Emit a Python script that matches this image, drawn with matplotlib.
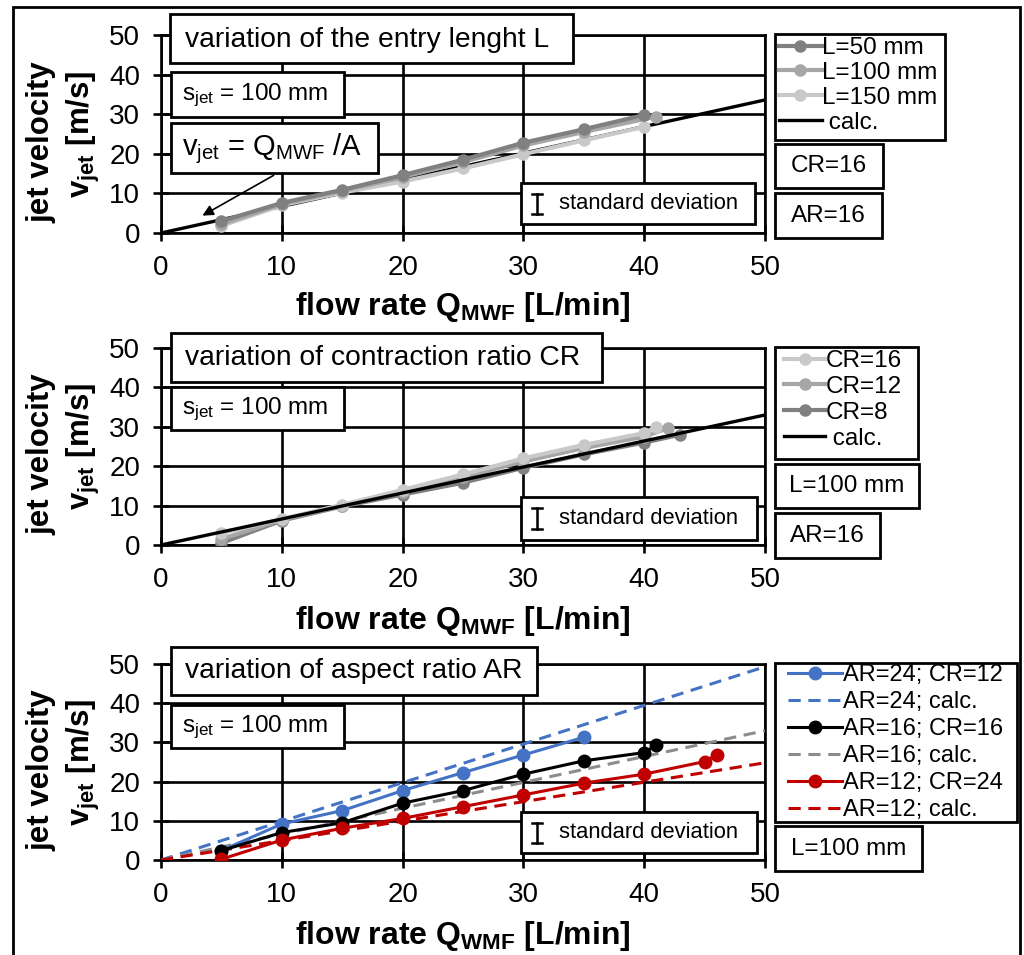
import matplotlib
matplotlib.use('Agg')
import matplotlib.pyplot as plt
from matplotlib.patches import Rectangle, FancyArrowPatch
from matplotlib.lines import Line2D

plt.rcParams['font.family'] = ['Liberation Sans', 'DejaVu Sans']
plt.rcParams['mathtext.fontset'] = 'custom'
plt.rcParams['mathtext.rm'] = 'Liberation Sans'
plt.rcParams['mathtext.it'] = 'Liberation Sans:italic'
plt.rcParams['mathtext.bf'] = 'Liberation Sans:bold'

# ---------------- data ----------------
ticks = [0, 10, 20, 30, 40, 50]

# panel 1: variation of entry length L
q_L50 = [5, 10, 15, 20, 25, 30, 35, 40]
v_L50 = [3.0, 7.6, 10.9, 14.6, 18.5, 22.8, 26.2, 29.8]
q_L100 = [5, 10, 15, 20, 25, 30, 35, 41]
v_L100 = [2.2, 7.3, 10.6, 14.1, 17.9, 22.1, 25.5, 29.4]
q_L150 = [5, 10, 15, 20, 25, 30, 35, 40]
v_L150 = [1.8, 7.0, 10.2, 13.0, 16.3, 19.9, 23.4, 26.8]
calc_q = [0, 50]
calc_v1 = [0, 33.6]

# panel 2: variation of contraction ratio CR
q_CR16 = [5, 10, 15, 20, 25, 30, 35, 40, 41]
v_CR16 = [3.0, 6.6, 10.2, 14.0, 17.9, 22.0, 25.4, 28.4, 30.0]
q_CR12 = [5, 10, 15, 20, 25, 30, 35, 40, 42]
v_CR12 = [1.5, 6.4, 10.0, 13.5, 17.2, 21.2, 24.6, 27.5, 29.7]
q_CR8 = [5, 10, 15, 20, 25, 30, 35, 40, 43]
v_CR8 = [0.5, 6.2, 9.8, 12.8, 15.8, 19.6, 23.0, 26.0, 28.0]
calc_v2 = [0, 33.0]

# panel 3: variation of aspect ratio AR
q_AR24 = [5, 10, 15, 20, 25, 30, 35]
v_AR24 = [2.4, 9.2, 12.6, 17.7, 22.3, 26.8, 31.3]
q_AR16 = [5, 10, 15, 20, 25, 30, 35, 40, 41]
v_AR16 = [2.4, 7.0, 9.5, 14.5, 17.7, 21.9, 25.3, 27.4, 29.3]
q_AR12 = [5, 10, 15, 20, 25, 30, 35, 40, 45, 46]
v_AR12 = [0.2, 5.1, 8.1, 10.6, 13.6, 16.6, 19.6, 21.9, 25.1, 26.8]
calc_v_AR24 = [0, 49.3]
calc_v_AR16 = [0, 33.0]
calc_v_AR12 = [0, 24.8]

# ---------------- layout helpers (pixel coords, origin top-left) ----------------
W, H = 1024, 955
fig = plt.figure(figsize=(W / 100, H / 100), dpi=100)

BLACK = 'black'
G_DARK, G_MID, G_LIGHT = '#808080', '#a6a6a6', '#c9c9c9'
BLUE, RED, GRAY_D = '#4472c4', '#c00000', '#8c8c8c'
LW = 1.9


def add_box(x0, y0, x1, y1, lw=2.0, z=4):
    fig.add_artist(Rectangle((x0 / W, 1 - y1 / H), (x1 - x0) / W, (y1 - y0) / H,
                             transform=fig.transFigure, facecolor='white',
                             edgecolor='black', linewidth=lw, zorder=z))


def add_text(x, y, s, size, ha='left', **kw):
    fig.text(x / W, 1 - y / H, s, fontsize=size, ha=ha, va='center', zorder=6, **kw)


def std_box(x0, y0, x1, y1):
    add_box(x0, y0, x1, y1)
    cx, cy = x0 + 16, (y0 + y1) / 2
    for xs, ys in [([cx, cx], [cy - 10, cy + 10]), ([cx - 5, cx + 5], [cy - 10, cy - 10]),
                   ([cx - 5, cx + 5], [cy + 10, cy + 10])]:
        fig.add_artist(Line2D([x / W for x in xs], [1 - y / H for y in ys],
                              transform=fig.transFigure, color='black', lw=1.8, zorder=6))
    add_text(x0 + 38, cy, 'standard deviation', 15.8)


X0, X1 = 161, 765
panels_px = [(35, 233), (348, 545), (664, 860)]
axes = []
for top, bot in panels_px:
    ax = fig.add_axes([X0 / W, 1 - bot / H, (X1 - X0) / W, (bot - top) / H])
    ax.set_xlim(0, 50)
    ax.set_ylim(0, 50)
    ax.set_xticks(ticks)
    ax.set_yticks(ticks)
    ax.grid(True, color='black', lw=LW)
    ax.set_axisbelow(True)
    for sp in ax.spines.values():
        sp.set_linewidth(LW)
        sp.set_color('black')
    ax.tick_params(direction='inout', length=12, width=LW, labelsize=20)
    ax.tick_params(axis='y', pad=9)
    ax.tick_params(axis='x', pad=10)
    axes.append(ax)

ax1, ax2, ax3 = axes

mk = dict(marker='o', ms=8, lw=3)
# panel 1
ax1.plot(calc_q, calc_v1, color=BLACK, lw=2.4, zorder=3)
ax1.plot(q_L150, v_L150, color=G_LIGHT, **mk, zorder=4)
ax1.plot(q_L100, v_L100, color=G_MID, **mk, zorder=5)
ax1.plot(q_L50, v_L50, color=G_DARK, **mk, zorder=5)

# panel 2
ax2.plot(calc_q, calc_v2, color=BLACK, lw=2.4, zorder=6)
ax2.plot(q_CR8, v_CR8, color=G_DARK, **mk, zorder=4)
ax2.plot(q_CR12, v_CR12, color=G_MID, **mk, zorder=5)
ax2.plot(q_CR16, v_CR16, color=G_LIGHT, **mk, zorder=5)

# panel 3
dash = (0, (4, 2.5))
mk3 = dict(marker='o', ms=9, lw=2.2)
ax3.plot(calc_q, calc_v_AR24, color=BLUE, lw=2.2, ls=dash, zorder=3)
ax3.plot(calc_q, calc_v_AR16, color=GRAY_D, lw=2.2, ls=dash, zorder=3)
ax3.plot(calc_q, calc_v_AR12, color=RED, lw=2.2, ls=dash, zorder=3)
ax3.plot(q_AR24, v_AR24, color=BLUE, **mk3, zorder=4)
ax3.plot(q_AR16, v_AR16, color=BLACK, **mk3, zorder=4)
ax3.plot(q_AR12, v_AR12, color=RED, **mk3, zorder=4)

# axis titles
xl_centers = [307, 621, 936]
xl_texts = [r'flow rate $\mathbf{Q_{MWF}}$ [L/min]', r'flow rate $\mathbf{Q_{MWF}}$ [L/min]',
            r'flow rate $\mathbf{Q_{WMF}}$ [L/min]']
for yc, s in zip(xl_centers, xl_texts):
    add_text((X0 + X1) / 2, yc, s, 23, ha='center', fontweight='bold')
for top, bot in panels_px:
    yc = (top + bot) / 2
    fig.text(41 / W, 1 - (yc + 8) / H, 'jet velocity', fontsize=22.5, fontweight='bold',
             rotation=90, ha='center', va='center')
    fig.text(83 / W, 1 - yc / H, r'$\mathbf{v_{jet}}$ [m/s]', fontsize=22.5, fontweight='bold',
             rotation=90, ha='center', va='center')

# ---------------- panel 1 annotations ----------------
add_box(170, 14, 573, 63)
add_text(185, 40, 'variation of the entry lenght L', 20.3)
add_box(171, 72, 344, 117)
add_text(182, 95, r'$\mathregular{s_{jet}}$ = 100 mm', 17.5)
add_box(171, 123, 378, 173)
add_text(182, 149, r'$\mathregular{v_{jet}}$ = $\mathregular{Q_{MWF}}$ /A', 21)
fig.add_artist(FancyArrowPatch((276 / W, 1 - 174 / H), (200 / W, 1 - 217 / H),
               transform=fig.transFigure, arrowstyle='-|>', mutation_scale=16,
               color='black', lw=1.2, zorder=6))
std_box(521, 183, 755, 224)

add_box(775, 34, 945, 140)
h1 = [Line2D([], [], color=G_DARK, marker='o', ms=8, lw=3),
      Line2D([], [], color=G_MID, marker='o', ms=8, lw=3),
      Line2D([], [], color=G_LIGHT, marker='o', ms=8, lw=3),
      Line2D([], [], color=BLACK, lw=2.4)]
leg_kw = dict(loc='upper left', bbox_transform=fig.transFigure, frameon=False,
              borderpad=0, borderaxespad=0, handletextpad=0.02)
fig.legend(h1, ['L=50 mm', 'L=100 mm', 'L=150 mm', ' calc.'],
           bbox_to_anchor=(779 / W, 1 - 37 / H), fontsize=17.5, handlelength=1.75,
           labelspacing=0.12, **leg_kw).set_zorder(7)
add_box(775, 144, 883, 188)
add_text(829, 166, 'CR=16', 17.5, ha='center')
add_box(775, 193, 882, 238)
add_text(828.5, 215.5, 'AR=16', 17.5, ha='center')

# ---------------- panel 2 annotations ----------------
add_box(171, 333, 602, 382)
add_text(185, 358, 'variation of contraction ratio CR', 20.3)
add_box(171, 387, 344, 430)
add_text(182, 409, r'$\mathregular{s_{jet}}$ = 100 mm', 17.5)
std_box(521, 497, 757, 540)

add_box(775, 347, 918, 459)
h2 = [Line2D([], [], color=G_LIGHT, marker='o', ms=8, lw=3),
      Line2D([], [], color=G_MID, marker='o', ms=8, lw=3),
      Line2D([], [], color=G_DARK, marker='o', ms=8, lw=3),
      Line2D([], [], color=BLACK, lw=2.4)]
fig.legend(h2, ['CR=16', 'CR=12', 'CR=8', ' calc.'],
           bbox_to_anchor=(784 / W, 1 - 350 / H), fontsize=17.5, handlelength=1.7,
           labelspacing=0.16, **leg_kw).set_zorder(7)
add_box(775, 464, 919, 508)
add_text(847, 486, 'L=100 mm', 17.5, ha='center')
add_box(775, 513, 880, 558)
add_text(827.5, 535.5, 'AR=16', 17.5, ha='center')

# ---------------- panel 3 annotations ----------------
add_box(171, 647, 537, 695)
add_text(185, 671, 'variation of aspect ratio AR', 20.3)
add_box(171, 705, 344, 748)
add_text(182, 727, r'$\mathregular{s_{jet}}$ = 100 mm', 17.5)
std_box(521, 812, 757, 853)

add_box(775, 663, 1017, 822)
h3 = [Line2D([], [], color=BLUE, marker='o', ms=9, lw=2.2),
      Line2D([], [], color=BLUE, lw=2.2, ls=dash),
      Line2D([], [], color=BLACK, marker='o', ms=9, lw=2.2),
      Line2D([], [], color=GRAY_D, lw=2.2, ls=dash),
      Line2D([], [], color=RED, marker='o', ms=9, lw=2.2),
      Line2D([], [], color=RED, lw=2.2, ls=dash)]
fig.legend(h3, ['AR=24; CR=12', 'AR=24; calc.', 'AR=16; CR=16', 'AR=16; calc.',
                'AR=12; CR=24', 'AR=12; calc.'],
           bbox_to_anchor=(788 / W, 1 - 664 / H), fontsize=17, handlelength=2.3,
           labelspacing=0.21, **leg_kw).set_zorder(7)
add_box(775, 826, 922, 871)
add_text(848.5, 848.5, 'L=100 mm', 17.5, ha='center')

# outer frame
fig.add_artist(Rectangle((13 / W, -10 / H), (1020 - 13) / W, (955 - 7 + 10) / H,
                         transform=fig.transFigure, facecolor='none', edgecolor='black',
                         linewidth=2.0, zorder=8))

fig.savefig('out.png', dpi=100)
